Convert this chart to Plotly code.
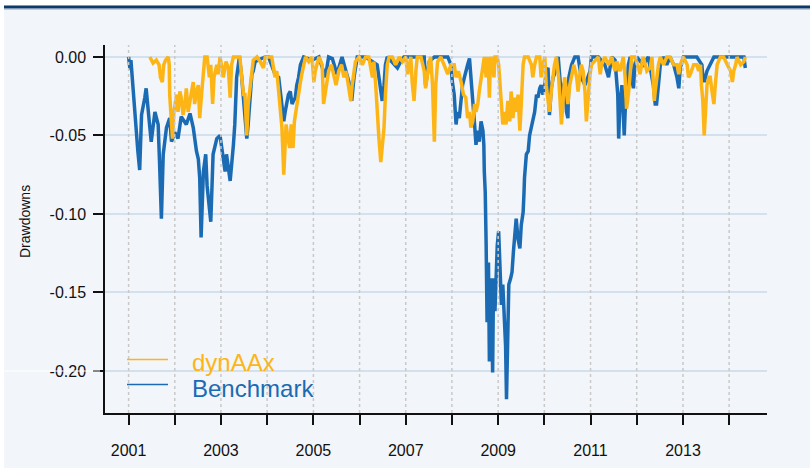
import plotly.graph_objects as go
import pandas as pd

# ---------------- data (decimal years, drawdown values) ----------------
bench_years = [
    2001.00, 2001.03, 2001.05, 2001.09, 2001.13, 2001.20, 2001.24, 2001.28, 2001.35, 2001.38,
    2001.46, 2001.49, 2001.57, 2001.64, 2001.67, 2001.71, 2001.75, 2001.82, 2001.89, 2001.93,
    2002.00, 2002.07, 2002.14, 2002.25, 2002.33, 2002.40, 2002.47, 2002.51, 2002.54, 2002.57,
    2002.62, 2002.67, 2002.70, 2002.78, 2002.83, 2002.91, 2002.98, 2003.01, 2003.09, 2003.12,
    2003.20, 2003.27, 2003.30, 2003.34, 2003.40, 2003.45, 2003.52, 2003.56, 2003.59, 2003.63,
    2003.67, 2003.70, 2003.74, 2003.88, 2003.96, 2004.03, 2004.10, 2004.17, 2004.25, 2004.28,
    2004.32, 2004.36, 2004.39, 2004.43, 2004.46, 2004.50, 2004.54, 2004.57, 2004.61, 2004.64,
    2004.68, 2004.72, 2004.79, 2004.97, 2005.12, 2005.26, 2005.33, 2005.41, 2005.51, 2005.62,
    2005.77, 2005.83, 2005.88, 2005.95, 2006.13, 2006.28, 2006.38, 2006.42, 2006.46, 2006.49,
    2006.53, 2006.56, 2006.60, 2006.75, 2006.82, 2006.89, 2006.96, 2007.40, 2007.43, 2007.51,
    2007.62, 2007.91, 2007.98, 2008.01, 2008.05, 2008.09, 2008.12, 2008.16, 2008.20, 2008.23,
    2008.27, 2008.30, 2008.34, 2008.38, 2008.41, 2008.45, 2008.49, 2008.52, 2008.56, 2008.59,
    2008.63, 2008.67, 2008.69, 2008.70, 2008.72, 2008.74, 2008.76, 2008.78, 2008.79, 2008.81,
    2008.83, 2008.85, 2008.88, 2008.90, 2008.93, 2008.96, 2008.98, 2009.01, 2009.03, 2009.07,
    2009.10, 2009.14, 2009.16, 2009.18, 2009.21, 2009.23, 2009.27, 2009.30, 2009.33, 2009.36,
    2009.39, 2009.43, 2009.47, 2009.50, 2009.54, 2009.56, 2009.57, 2009.61, 2009.65, 2009.68,
    2009.72, 2009.75, 2009.79, 2009.83, 2009.86, 2009.90, 2009.93, 2009.97, 2010.01, 2010.04,
    2010.08, 2010.11, 2010.15, 2010.19, 2010.22, 2010.26, 2010.30, 2010.37, 2010.40, 2010.44,
    2010.48, 2010.51, 2010.53, 2010.59, 2010.66, 2010.73, 2010.80, 2010.88, 2010.95, 2010.99,
    2011.02, 2011.17, 2011.31, 2011.39, 2011.46, 2011.53, 2011.59, 2011.61, 2011.63, 2011.66,
    2011.68, 2011.70, 2011.73, 2011.75, 2011.77, 2011.80, 2011.82, 2011.86, 2011.89, 2011.93,
    2011.96, 2012.00, 2012.14, 2012.25, 2012.36, 2012.40, 2012.43, 2012.47, 2012.51, 2012.58,
    2012.65, 2012.72, 2012.80, 2012.87, 2012.91, 2012.94, 2013.01, 2013.30, 2013.41, 2013.43,
    2013.46, 2013.52, 2013.59, 2013.67, 2014.10, 2014.32, 2014.35,
]
bench_values = [
    0.000, -0.008, -0.002, -0.018, -0.039, -0.060, -0.072, -0.037, -0.026, -0.020,
    -0.045, -0.054, -0.035, -0.043, -0.067, -0.103, -0.062, -0.045, -0.039, -0.054,
    -0.048, -0.052, -0.038, -0.043, -0.036, -0.045, -0.060, -0.065, -0.077, -0.115,
    -0.073, -0.062, -0.082, -0.105, -0.062, -0.052, -0.050, -0.056, -0.073, -0.062,
    -0.079, -0.056, -0.043, -0.013, 0.000, -0.013, -0.035, -0.052, -0.043, -0.026,
    -0.011, -0.009, -0.003, -0.001, 0.000, 0.000, -0.005, -0.011, -0.013, -0.022,
    -0.030, -0.041, -0.035, -0.028, -0.024, -0.022, -0.030, -0.028, -0.026, -0.018,
    -0.013, -0.005, 0.000, -0.002, 0.000, -0.013, 0.000, -0.001, -0.011, 0.000,
    -0.016, -0.028, -0.013, 0.000, 0.000, -0.003, -0.005, -0.013, -0.022, -0.028,
    -0.018, -0.005, 0.000, -0.005, -0.007, -0.003, 0.000, 0.000, -0.018, -0.003,
    0.000, 0.000, -0.005, -0.016, -0.024, -0.043, -0.035, -0.039, -0.024, -0.018,
    -0.013, -0.009, -0.005, -0.001, -0.011, -0.030, -0.043, -0.056, -0.047, -0.054,
    -0.041, -0.047, -0.056, -0.073, -0.086, -0.120, -0.169, -0.141, -0.131, -0.194,
    -0.173, -0.141, -0.201, -0.141, -0.162, -0.137, -0.120, -0.111, -0.131, -0.158,
    -0.145, -0.167, -0.184, -0.218, -0.184, -0.145, -0.141, -0.137, -0.124, -0.111,
    -0.103, -0.116, -0.122, -0.107, -0.099, -0.086, -0.077, -0.062, -0.060, -0.050,
    -0.045, -0.041, -0.035, -0.024, -0.026, -0.020, -0.018, -0.024, -0.018, -0.009,
    -0.007, -0.037, -0.020, -0.013, -0.011, -0.005, 0.000, -0.026, -0.020, -0.016,
    -0.035, -0.039, -0.013, -0.005, 0.000, 0.000, -0.013, -0.018, -0.013, -0.009,
    0.000, 0.000, -0.005, -0.013, 0.000, -0.002, -0.024, -0.052, -0.035, -0.024,
    -0.018, -0.030, -0.050, -0.035, -0.024, -0.016, -0.005, 0.000, -0.013, -0.020,
    -0.005, 0.000, -0.005, 0.000, -0.018, -0.030, -0.030, -0.018, -0.005, 0.000,
    -0.005, 0.000, -0.005, -0.013, -0.020, -0.007, 0.000, 0.000, -0.005, -0.013,
    -0.016, -0.009, -0.005, 0.000, 0.000, 0.000, -0.007,
]

dyn_years = [
    2001.46, 2001.53, 2001.60, 2001.66, 2001.69, 2001.73, 2001.76, 2001.80, 2001.86, 2001.88,
    2001.89, 2001.91, 2001.93, 2001.95, 2001.98, 2002.00, 2002.04, 2002.07, 2002.11, 2002.14,
    2002.18, 2002.22, 2002.25, 2002.29, 2002.33, 2002.36, 2002.40, 2002.43, 2002.47, 2002.51,
    2002.54, 2002.58, 2002.62, 2002.65, 2002.70, 2002.75, 2002.78, 2002.82, 2002.85, 2002.91,
    2002.94, 2002.98, 2003.01, 2003.05, 2003.11, 2003.16, 2003.20, 2003.23, 2003.27, 2003.41,
    2003.45, 2003.49, 2003.52, 2003.56, 2003.59, 2003.63, 2003.67, 2003.70, 2003.78, 2003.85,
    2003.92, 2003.96, 2004.10, 2004.14, 2004.17, 2004.21, 2004.25, 2004.28, 2004.32, 2004.36,
    2004.38, 2004.41, 2004.45, 2004.49, 2004.52, 2004.56, 2004.59, 2004.64, 2004.68, 2004.72,
    2004.75, 2004.79, 2004.83, 2004.90, 2004.97, 2005.01, 2005.04, 2005.12, 2005.19, 2005.22,
    2005.26, 2005.30, 2005.33, 2005.39, 2005.44, 2005.49, 2005.55, 2005.61, 2005.66, 2005.70,
    2005.73, 2005.77, 2005.81, 2005.84, 2005.88, 2005.91, 2005.99, 2006.06, 2006.13, 2006.20,
    2006.28, 2006.31, 2006.35, 2006.38, 2006.42, 2006.46, 2006.49, 2006.53, 2006.56, 2006.60,
    2006.64, 2006.71, 2006.78, 2006.86, 2006.93, 2007.00, 2007.04, 2007.07, 2007.11, 2007.14,
    2007.18, 2007.22, 2007.25, 2007.33, 2007.40, 2007.43, 2007.47, 2007.51, 2007.54, 2007.58,
    2007.62, 2007.65, 2007.69, 2007.76, 2007.83, 2007.91, 2007.98, 2008.05, 2008.09, 2008.14,
    2008.20, 2008.25, 2008.30, 2008.34, 2008.38, 2008.41, 2008.45, 2008.49, 2008.52, 2008.56,
    2008.59, 2008.63, 2008.67, 2008.70, 2008.74, 2008.78, 2008.81, 2008.83, 2008.86, 2008.91,
    2008.93, 2008.98, 2009.01, 2009.03, 2009.07, 2009.10, 2009.14, 2009.17, 2009.21, 2009.25,
    2009.28, 2009.32, 2009.36, 2009.39, 2009.43, 2009.47, 2009.50, 2009.54, 2009.57, 2009.65,
    2009.72, 2009.75, 2009.79, 2009.83, 2009.90, 2009.93, 2009.97, 2010.01, 2010.04, 2010.08,
    2010.11, 2010.15, 2010.19, 2010.22, 2010.26, 2010.31, 2010.37, 2010.40, 2010.44, 2010.48,
    2010.51, 2010.55, 2010.59, 2010.64, 2010.70, 2010.73, 2010.77, 2010.80, 2010.84, 2010.88,
    2010.91, 2010.95, 2010.99, 2011.02, 2011.09, 2011.17, 2011.21, 2011.24, 2011.31, 2011.39,
    2011.46, 2011.53, 2011.57, 2011.60, 2011.64, 2011.67, 2011.71, 2011.75, 2011.78, 2011.82,
    2011.86, 2011.89, 2011.96, 2012.00, 2012.04, 2012.07, 2012.11, 2012.14, 2012.22, 2012.29,
    2012.33, 2012.35, 2012.38, 2012.40, 2012.43, 2012.47, 2012.51, 2012.58, 2012.65, 2012.72,
    2012.80, 2012.87, 2012.91, 2012.94, 2013.01, 2013.09, 2013.12, 2013.16, 2013.23, 2013.30,
    2013.34, 2013.38, 2013.40, 2013.43, 2013.46, 2013.49, 2013.52, 2013.56, 2013.59, 2013.63,
    2013.67, 2013.70, 2013.74, 2013.81, 2013.88, 2013.96, 2014.03, 2014.07, 2014.10, 2014.14,
    2014.17, 2014.25, 2014.32, 2014.35,
]
dyn_values = [
    0.000, -0.004, -0.002, -0.005, -0.013, -0.016, -0.005, -0.002, 0.000, -0.005,
    -0.024, -0.035, -0.045, -0.052, -0.035, -0.030, -0.024, -0.035, -0.022, -0.026,
    -0.037, -0.030, -0.020, -0.035, -0.028, -0.020, -0.016, -0.030, -0.022, -0.018,
    -0.039, -0.024, -0.013, 0.000, 0.000, -0.013, -0.005, -0.030, -0.013, -0.005,
    -0.011, 0.000, -0.005, -0.013, -0.003, -0.007, -0.026, -0.005, 0.000, 0.000,
    -0.013, -0.024, -0.024, -0.050, -0.030, -0.018, -0.009, -0.002, 0.000, -0.003,
    -0.007, 0.000, 0.000, -0.007, -0.013, -0.009, -0.022, -0.026, -0.045, -0.075,
    -0.062, -0.043, -0.052, -0.058, -0.043, -0.058, -0.041, -0.030, -0.024, -0.016,
    -0.011, -0.005, 0.000, -0.003, 0.000, -0.016, -0.009, 0.000, -0.005, -0.030,
    -0.022, -0.013, -0.009, -0.005, -0.013, -0.018, -0.009, -0.005, -0.013, -0.009,
    -0.013, -0.020, -0.028, -0.018, -0.011, -0.003, 0.000, -0.005, 0.000, 0.000,
    -0.013, -0.003, -0.018, -0.035, -0.052, -0.067, -0.056, -0.045, -0.024, -0.005,
    0.000, 0.000, -0.005, 0.000, -0.003, 0.000, -0.011, -0.005, 0.000, -0.016,
    -0.028, -0.009, 0.000, 0.000, -0.009, -0.020, -0.011, -0.003, 0.000, -0.018,
    -0.054, -0.018, -0.003, 0.000, -0.005, -0.011, -0.005, -0.005, -0.013, -0.009,
    -0.016, -0.024, -0.026, -0.039, -0.035, -0.045, -0.041, -0.030, -0.035, -0.030,
    -0.022, -0.013, -0.005, 0.000, -0.013, 0.000, -0.026, -0.005, 0.000, -0.013,
    0.000, 0.000, -0.005, -0.013, -0.026, -0.043, -0.035, -0.043, -0.028, -0.041,
    -0.022, -0.039, -0.026, -0.035, -0.024, -0.047, -0.030, -0.005, 0.000, 0.000,
    -0.005, -0.013, -0.005, 0.000, 0.000, -0.013, -0.005, 0.000, -0.018, -0.030,
    -0.035, -0.022, -0.011, -0.005, 0.000, -0.013, -0.043, -0.026, -0.013, -0.022,
    -0.030, -0.018, -0.011, -0.005, -0.013, -0.022, -0.011, -0.005, -0.009, -0.022,
    -0.041, -0.024, -0.011, -0.005, -0.003, 0.000, -0.011, -0.005, 0.000, -0.005,
    0.000, -0.009, -0.003, -0.005, -0.009, -0.005, 0.000, -0.013, -0.033, -0.024,
    -0.009, 0.000, 0.000, -0.003, -0.007, -0.011, -0.005, 0.000, -0.009, -0.007,
    0.000, -0.013, -0.028, -0.022, -0.013, -0.005, 0.000, -0.005, 0.000, 0.000,
    -0.005, -0.005, -0.011, -0.005, 0.000, -0.005, -0.013, -0.011, -0.005, -0.005,
    -0.009, -0.005, -0.018, -0.028, -0.050, -0.035, -0.018, -0.013, -0.013, -0.022,
    -0.030, -0.018, -0.005, 0.000, 0.000, -0.005, -0.009, -0.016, -0.009, -0.005,
    0.000, -0.005, -0.003, 0.000,
]

tick_years = list(range(2001, 2015))
tick_labels = [str(y) if y % 2 == 1 else "" for y in tick_years]
y_ticks = [0.0, -0.05, -0.10, -0.15, -0.20]
y_tick_labels = ["0.00", "-0.05", "-0.10", "-0.15", "-0.20"]

series_colors = {"dynAAx": "#FDB515", "Benchmark": "#1A6BB4"}


def to_date(y):
    yr = int(y)
    start = pd.Timestamp(year=yr, month=1, day=1)
    end = pd.Timestamp(year=yr + 1, month=1, day=1)
    return start + (end - start) * (y - yr)


FONT = "Liberation Sans, Arial, sans-serif"

fig = go.Figure()
fig.add_trace(go.Scatter(
    x=[to_date(v) for v in bench_years], y=bench_values, mode="lines",
    name="Benchmark", line=dict(color=series_colors["Benchmark"], width=3.5),
    showlegend=False,
))
fig.add_trace(go.Scatter(
    x=[to_date(v) for v in dyn_years], y=dyn_values, mode="lines",
    name="dynAAx", line=dict(color=series_colors["dynAAx"], width=3.5),
    showlegend=False,
))

# geometry (pixels) of plot area
L, R, T, B = 105, 43, 45, 55
W, H = 810, 468
pw, ph = W - L - R, H - T - B


def px(xp):
    return (xp - L) / pw


def py(yp):
    return (H - B - yp) / ph


shapes = []
# panel background + top rule
shapes.append(dict(type="rect", xref="paper", yref="paper", x0=px(4), x1=px(812),
                   y0=py(470), y1=py(5), fillcolor="#F2F5F9", line=dict(width=0), layer="below"))
shapes.append(dict(type="rect", xref="paper", yref="paper", x0=px(4), x1=px(812),
                   y0=py(8.5), y1=py(5.5), fillcolor="#0D3A6B", line=dict(width=0), layer="above"))
shapes.append(dict(type="line", xref="paper", yref="paper", x0=px(4), x1=px(812),
                   y0=py(9.5), y1=py(9.5), line=dict(color="#B9CCE0", width=1)))
shapes.append(dict(type="line", xref="paper", yref="paper", x0=px(0), x1=px(100),
                   y0=py(371), y1=py(371), line=dict(color="#FFFFFF", width=1)))
# dotted vertical year grid drawn above the lines
for yv in tick_years:
    shapes.append(dict(type="line", xref="x", yref="paper", x0=to_date(yv), x1=to_date(yv),
                       y0=0, y1=1, line=dict(color="#C9C9C9", width=1.5, dash="dot"), layer="above"))

# legend (drawn manually to match R-style legend spacing)
annotations = []
leg_rows = [("dynAAx", 359.5, 362.5), ("Benchmark", 384.5, 388.5)]
for name, ly, ty in leg_rows:
    shapes.append(dict(type="line", xref="paper", yref="paper", x0=px(127), x1=px(168),
                       y0=py(ly), y1=py(ly), line=dict(color=series_colors[name], width=1.5)))
    annotations.append(dict(xref="paper", yref="paper", x=px(190), y=py(ty), text=name,
                            showarrow=False, xanchor="left", yanchor="middle",
                            font=dict(family=FONT, size=24, color=series_colors[name])))

# y-axis title as rotated text
annotations.append(dict(xref="paper", yref="paper", x=px(25), y=py(222), text="Drawdowns",
                        textangle=-90, showarrow=False, xanchor="center", yanchor="middle",
                        font=dict(family=FONT, size=14, color="#111111")))

x_range = [to_date(2000.49), to_date(2014.82)]

fig.update_layout(
    width=W, height=H,
    margin=dict(l=L, r=R, t=T, b=B, autoexpand=False),
    paper_bgcolor="#FFFFFF",
    plot_bgcolor="#F2F5F9",
    font=dict(family=FONT, size=16, color="#111111"),
    shapes=shapes,
    annotations=annotations,
    showlegend=False,
    xaxis=dict(
        type="date", range=x_range,
        tickvals=[to_date(v) for v in tick_years], ticktext=tick_labels,
        showgrid=False, zeroline=False,
        showline=True, linecolor="#111111", linewidth=1.5,
        ticks="outside", ticklen=10, tickwidth=1.5, tickcolor="#111111",
        tickfont=dict(size=16, color="#111111"), ticklabelstandoff=12,
    ),
    yaxis=dict(
        range=[-0.2268, 0.0076],
        tickvals=y_ticks, ticktext=y_tick_labels,
        showgrid=True, gridcolor="#D3E1EE", gridwidth=2, zeroline=False,
        showline=True, linecolor="#111111", linewidth=1.5,
        ticks="outside", ticklen=10, tickwidth=1.5, tickcolor="#111111",
        tickfont=dict(size=16, color="#111111"), ticklabelstandoff=4,
    ),
)

fig.write_html("out.html", config={"displayModeBar": False},
               post_script="document.body.style.margin='0';")
